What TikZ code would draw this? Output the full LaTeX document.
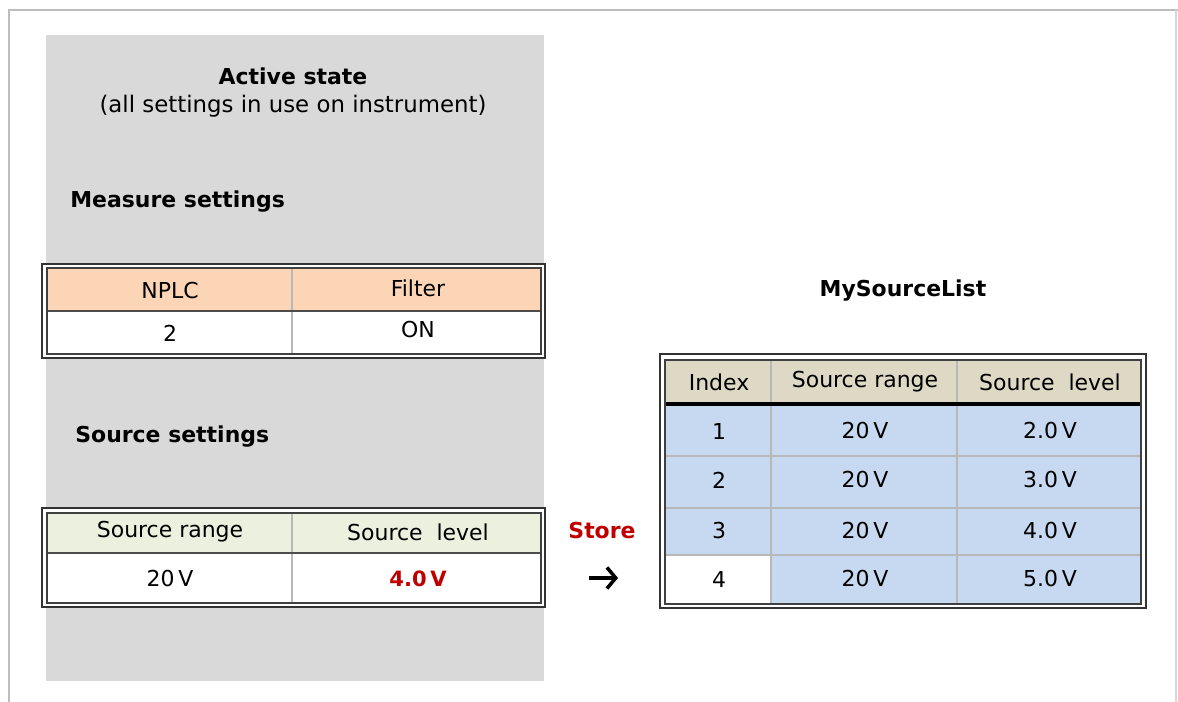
\documentclass[tikz,border=0pt]{standalone}
\usepackage{fontspec}
\setmainfont{DejaVu Sans}
\usetikzlibrary{arrows.meta,positioning}
\definecolor{panelgrey}{HTML}{D9D9D9}
\definecolor{framegrey}{HTML}{BDBDBD}
\definecolor{peach}{HTML}{FBD5B5}
\definecolor{lightgreen}{HTML}{EBF1DE}
\definecolor{tan}{HTML}{DDD9C4}
\definecolor{rowblue}{HTML}{C6D9F1}
\definecolor{storered}{HTML}{C00000}
\definecolor{gridgrey}{HTML}{B8B8B8}

\begin{document}
\begin{tikzpicture}[x=0.02cm,y=-0.02cm, every node/.style={font=\fontsize{12.5}{14}\selectfont, inner sep=0pt},
    tabframe/.style={draw=black!80, line width=1.3pt, fill=white},
    tabinner/.style={draw=black!75, line width=0.9pt},
    gridline/.style={draw=gridgrey, line width=0.7pt},
    heading/.style={font=\fontsize{12.5}{15}\selectfont\bfseries}]
    \useasboundingbox (0,0) rectangle (1178,702);
    % frame and grey panel
    \draw[framegrey, line width=1.6pt] (9,702) -- (9,10) -- (1178,10);
    \draw[framegrey!60, line width=0.6pt] (1176,10) -- (1176,702);
    \fill[panelgrey] (46,35) rectangle (544,681);

    \node[heading] (active) at (293,76) {Active state};
    \node[font=\fontsize{13}{15}\selectfont] (subtitle) at (293,106) {(all settings in use on instrument)};
    \node[heading, anchor=west] (measure) at (70,202) {Measure settings};
    \node[heading, anchor=west] (source) at (75,437) {Source settings};

    % measure settings table
    \draw[tabframe] (42,264) rectangle (545,358);
    \fill[peach] (47,268) rectangle (541,311);
    \draw[gridline] (292,268) -- (292,354);
    \draw[draw=black!70, line width=0.8pt] (47,311) -- (541,311);
    \draw[tabinner] (47,268) rectangle (541,354);
    \node (nplc) at (170,291) {NPLC};
    \node (filter) at (418,288) {Filter};
    \node (nplcval) at (170,333) {2};
    \node (filterval) at (418,330) {ON};

    % source settings table
    \draw[tabframe] (42,508) rectangle (545,607);
    \fill[lightgreen] (47,513) rectangle (541,553);
    \draw[gridline] (292,513) -- (292,603);
    \draw[draw=black!70, line width=0.8pt] (47,553) -- (541,553);
    \draw[tabinner] (47,513) rectangle (541,603);
    \node (srange) at (170,532) {Source range};
    \node (slevel) at (418,532) {Source\ \ level};
    \node (srangeval) at (170,579) {20\,V};
    \node[font=\fontsize{12}{14}\selectfont\bfseries, text=storered] (slevelval) at (418,579) {4.0\,V};

    % store arrow
    \node[font=\fontsize{12.5}{15}\selectfont\bfseries, text=storered] (store) at (602,531) {Store};
    \coordinate (arrowstart) at (589,578);
    \coordinate (arrowend) at (618,578);
    \draw[-{Straight Barb[length=5pt,width=12pt]}, line width=2pt] (arrowstart) -- (arrowend);

    % source list table
    \node[heading] (listname) at (903,291) {MySourceList};
    \draw[tabframe] (660,354) rectangle (1146,608);
    \fill[tan] (665,360) rectangle (1141,404);
    \fill[rowblue] (665,404) rectangle (1141,604);
    \fill[white] (665,555) rectangle (771,604);
    \foreach \yy in {456,508,555}
        \draw[gridline] (665,\yy) -- (1141,\yy);
    \foreach \xx in {771,957}
        \draw[gridline] (\xx,360) -- (\xx,604);
    \draw[black, line width=1.8pt] (665,404) -- (1141,404);
    \draw[tabinner] (665,360) rectangle (1141,604);
    \node (hindex) at (719,382) {Index};
    \node (hrange) at (865,382) {Source range};
    \node (hlevel) at (1050,382) {Source\ \ level};
    \foreach \i/\yy/\lvl in {1/431/2.0, 2/480/3.0, 3/531/4.0, 4/579/5.0} {
        \node (idx\i) at (719,\yy) {\i};
        \node (rng\i) at (865,\yy) {20\,V};
        \node (lvl\i) at (1050,\yy) {\lvl\,V};
    }
\end{tikzpicture}
\end{document}
